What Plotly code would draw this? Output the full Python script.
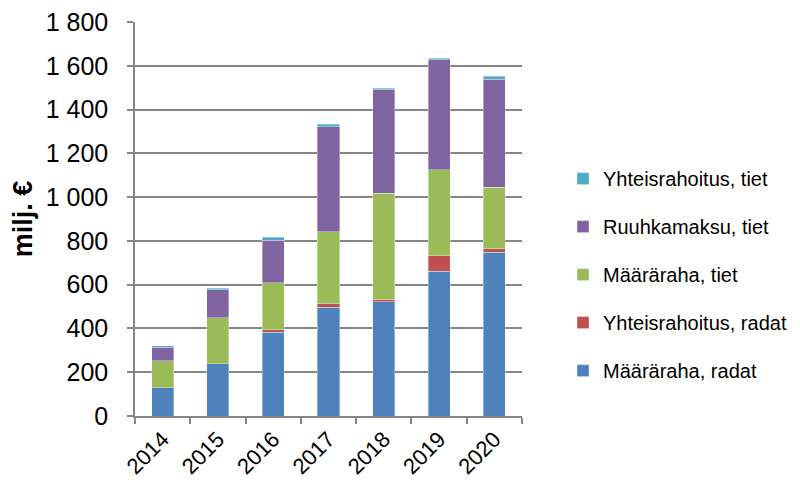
import plotly.graph_objects as go

years = ["2014", "2015", "2016", "2017", "2018", "2019", "2020"]
maararaha_radat = [129, 239, 382, 496, 522, 661, 748]
yhteisrahoitus_radat = [1, 0, 12, 17, 9, 71, 16]
maararaha_tiet = [122, 209, 215, 328, 486, 392, 282]
ruuhkamaksu_tiet = [61, 128, 195, 481, 474, 504, 492]
yhteisrahoitus_tiet = [8, 7, 12, 12, 6, 7, 15]

series = [
    ("Määräraha, radat", maararaha_radat, "#4F81BD"),
    ("Yhteisrahoitus, radat", yhteisrahoitus_radat, "#C0504D"),
    ("Määräraha, tiet", maararaha_tiet, "#9BBB59"),
    ("Ruuhkamaksu, tiet", ruuhkamaksu_tiet, "#8064A2"),
    ("Yhteisrahoitus, tiet", yhteisrahoitus_tiet, "#4BACC6"),
]

fig = go.Figure()
n = len(series)
for i, (name, vals, col) in enumerate(series):
    fig.add_trace(go.Bar(
        x=years, y=vals, name=name, legendgroup=f"g{i}", legendrank=n - i,
        marker=dict(color=col, line=dict(width=0.6, color="rgba(255,255,255,0.6)")),
    ))

FONT = "Liberation Sans, Arial, sans-serif"
fig.update_layout(
    barmode="stack",
    bargap=0.6,
    width=800, height=476,
    margin=dict(l=127, r=286, t=14, b=68, autoexpand=False),
    paper_bgcolor="white", plot_bgcolor="white",
    separators=", ",
    font=dict(family=FONT, color="#000000"),
    legend=dict(
        x=1.106, xanchor="left", y=0.652, yanchor="top",
        traceorder="grouped", tracegroupgap=19,
        font=dict(size=20, family=FONT, color="#000000"),
        itemwidth=30,
    ),
    xaxis=dict(
        automargin=False,
        showline=True, linecolor="#868686", linewidth=1.5,
        ticks="outside", tickson="boundaries", ticklen=6, tickcolor="#868686", tickwidth=1.5,
        tickangle=-45, tickfont=dict(size=22, family=FONT),
        showgrid=False,
    ),
    yaxis=dict(
        automargin=False,
        range=[0, 1800], dtick=200, tickformat=",d",
        showline=True, linecolor="#868686", linewidth=1.5,
        ticks="outside", ticklen=6, tickcolor="#868686", tickwidth=1.5,
        ticklabelstandoff=14, ticklabeloverflow="allow",
        tickfont=dict(size=25, family=FONT),
        showgrid=True, gridcolor="#868686", gridwidth=1.5,
        zeroline=False,
        title=dict(text="<b>milj. €</b>", font=dict(size=27, family=FONT), standoff=12),
    ),
)

fig.write_html("out.html")
